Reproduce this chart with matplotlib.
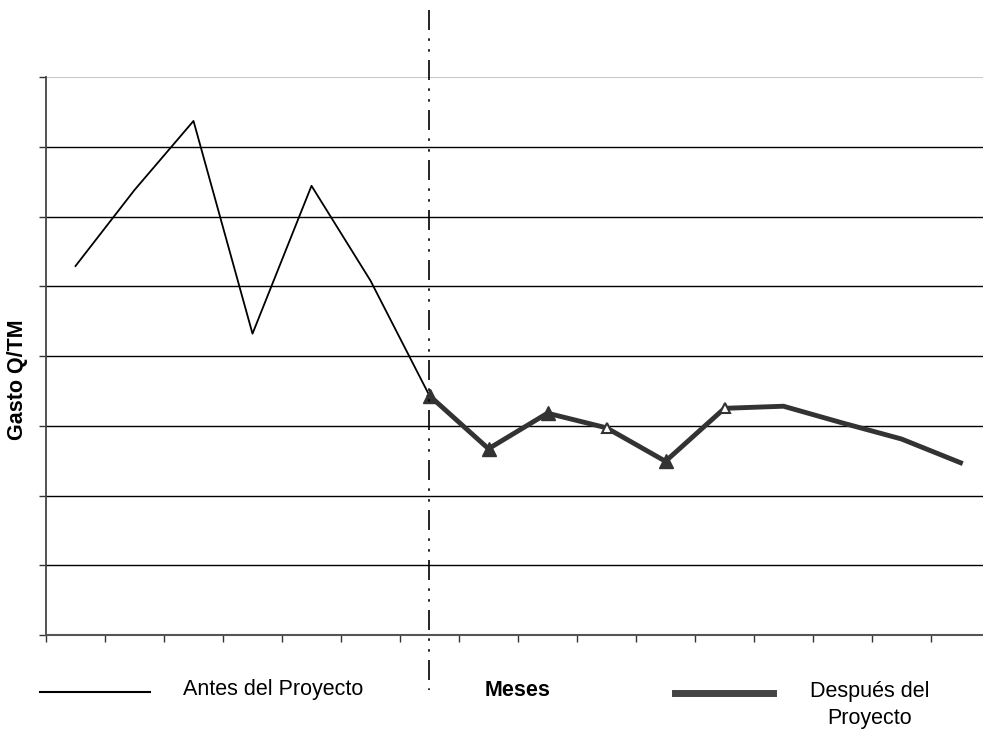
import numpy as np
import matplotlib.pyplot as plt
from matplotlib.lines import Line2D

plt.rcParams['font.family'] = ['Liberation Sans', 'DejaVu Sans']

# datos (escala sin unidades, 8 divisiones)
meses = np.arange(16)
antes = [5.29, 6.38, 7.37, 4.32, 6.44, 5.08, 3.43]
despues = [3.43, 2.67, 3.18, 2.97, 2.49, 3.25, 3.28, 3.04, 2.81, 2.47]
idx_antes = meses[:7]
idx_despues = meses[6:]
marcas_grandes = [6, 7, 8, 10]
marcas_chicas = [9, 11]

fig = plt.figure(figsize=(9.83, 7.35), dpi=100)
ax = fig.add_axes([46/983, 1 - 635/735, 944/983, 558/735])

# grid
for g in range(1, 8):
    ax.axhline(g, color='black', lw=1, zorder=1)
ax.axhline(8, color='#c8c8c8', lw=1.5, zorder=1)

ax.plot(idx_antes, antes, color='black', lw=1.3, zorder=3)
ax.plot(idx_despues, despues, color='#333333', lw=3.5, zorder=3,
        solid_joinstyle='miter')
d = dict(zip(idx_despues, despues))
ax.plot(marcas_grandes, [d[i] for i in marcas_grandes], ls='none', marker='^',
        ms=10, color='#333333', zorder=4)
ax.plot(marcas_chicas, [d[i] for i in marcas_chicas], ls='none', marker='^',
        ms=7, mfc='white', mec='#333333', mew=1.5, zorder=4)

ax.set_xlim(-0.5, 15.5)
ax.set_ylim(0, 8)
ax.set_xticks(np.arange(-0.5, 15.5, 1))
ax.set_xticklabels([])
ax.set_yticks(range(0, 9))
ax.set_yticklabels([])
ax.tick_params(axis='both', direction='out', length=5, width=1, color='#333333')
for s in ['top', 'right']:
    ax.spines[s].set_visible(False)
ax.spines['left'].set_color('#444444')
ax.spines['bottom'].set_color('#555555')
ax.spines['left'].set_linewidth(1.3)
ax.spines['bottom'].set_linewidth(1.5)

# linea vertical de corte
fig.add_artist(Line2D([429/983, 429/983], [1 - 10/735, 1 - 690/735],
                      color='black', lw=1.2, dashes=[12, 5, 1.5, 5, 1.5, 5]))

fig.text(18/983, 1 - 380/735, 'Gasto Q/TM', rotation=90, fontsize=15.5,
         fontweight='bold', ha='center', va='center')

# leyenda manual
fig.add_artist(Line2D([40/983, 150/983], [1 - 692/735, 1 - 692/735],
                      color='black', lw=1.5))
fig.text(183/983, 1 - 690/735, 'Antes del Proyecto', fontsize=15.5,
         ha='left', va='center')
fig.text(485/983, 1 - 690/735, 'Meses', fontsize=15.5, fontweight='bold',
         ha='left', va='center')
fig.add_artist(Line2D([675/983, 773/983], [1 - 693/735, 1 - 693/735],
                      color='#444444', lw=5))
fig.text(870/983, 1 - 705/735, 'Después del\nProyecto', fontsize=15.5,
         ha='center', va='center', linespacing=1.35)

fig.savefig('out.png', dpi=100)
